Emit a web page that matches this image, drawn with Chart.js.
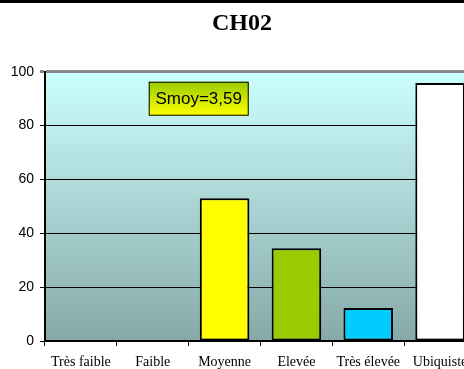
<!DOCTYPE html>
<html>
<head>
    <title>CH02</title>
    <script src="https://cdn.jsdelivr.net/npm/chart.js"></script>
    <style>
        html, body {
            margin: 0;
            padding: 0;
            overflow: hidden;
            background: #fff;
        }
        #topline {
            position: absolute;
            left: 0; top: 0;
            width: 464px;
            height: 3px;
            background: #000;
            z-index: 2;
        }
        #wrap {
            position: absolute;
            left: 0; top: 0;
            width: 476px;
            height: 369px;
        }
    </style>
</head>
<body>
    <div id="topline"></div>
    <div id="wrap"><canvas id="ch02Chart"></canvas></div>

    <script>
        // Data
        const categories = ['Très faible', 'Faible', 'Moyenne', 'Elevée', 'Très élevée', 'Ubiquiste'];
        const values = [0, 0, 53, 34.5, 12.3, 95.8];
        const barColors = ['#ffff00', '#ffff00', '#ffff00', '#99cc00', '#00ccff', '#ffffff'];
        const yTicks = [0, 20, 40, 60, 80, 100];
        const titleText = 'CH02';
        const noteText = 'Smoy=3,59';

        // Gradient plot background
        const plotBackground = {
            id: 'plotBackground',
            beforeDraw(chart) {
                const { ctx, chartArea: a } = chart;
                const g = ctx.createLinearGradient(0, a.top, 0, a.bottom);
                g.addColorStop(0, '#ccffff');
                g.addColorStop(1, '#86a9a7');
                ctx.save();
                ctx.fillStyle = g;
                ctx.fillRect(a.left, a.top, a.right - a.left, a.bottom - a.top);
                ctx.restore();
            }
        };

        // "Smoy" label box
        const noteBox = {
            id: 'noteBox',
            afterDatasetsDraw(chart) {
                const { ctx } = chart;
                const xs = chart.scales.x, ys = chart.scales.y;
                const cx = xs.getPixelForValue(1.64);
                const cy = ys.getPixelForValue(90);
                const w = 100, h = 34;
                const x0 = cx - w / 2, y0 = cy - h / 2;
                ctx.save();
                const g = ctx.createLinearGradient(0, y0, 0, y0 + h);
                g.addColorStop(0, '#99cc00');
                g.addColorStop(1, '#ffff00');
                ctx.fillStyle = g;
                ctx.fillRect(x0, y0, w, h);
                ctx.strokeStyle = '#000';
                ctx.lineWidth = 1;
                ctx.strokeRect(x0 + 0.5, y0 + 0.5, w - 1, h - 1);
                ctx.fillStyle = '#000';
                ctx.font = '17px "Liberation Sans", Arial, sans-serif';
                ctx.textAlign = 'center';
                ctx.textBaseline = 'middle';
                ctx.fillText(noteText, cx, cy + 1);
                ctx.restore();
            }
        };

        new Chart(document.getElementById('ch02Chart').getContext('2d'), {
            type: 'bar',
            data: {
                labels: categories,
                datasets: [{
                    data: values,
                    backgroundColor: barColors,
                    borderColor: '#000',
                    borderWidth: 2,
                    borderSkipped: false,
                    barPercentage: 0.69,
                    categoryPercentage: 1
                }]
            },
            options: {
                responsive: true,
                maintainAspectRatio: false,
                animation: false,
                layout: { padding: { top: 0, right: 0, left: 8, bottom: 0 } },
                plugins: {
                    legend: { display: false },
                    tooltip: { enabled: false },
                    title: {
                        display: true,
                        text: titleText,
                        color: '#000',
                        font: { family: '"Liberation Serif", "Times New Roman", serif', size: 24, weight: 'bold' },
                        padding: { top: 9, bottom: 34 }
                    }
                },
                scales: {
                    x: {
                        offset: true,
                        afterFit(scale) { scale.height = 28; },
                        grid: {
                            offset: true,
                            drawOnChartArea: false,
                            drawTicks: true,
                            tickLength: 5,
                            color: '#000'
                        },
                        border: { color: '#000', width: 2 },
                        ticks: {
                            color: '#000',
                            padding: 8,
                            maxRotation: 0,
                            autoSkip: false,
                            font: { family: '"Liberation Serif", "Times New Roman", serif', size: 14 }
                        }
                    },
                    y: {
                        min: 0,
                        max: 100,
                        afterBuildTicks(scale) {
                            scale.ticks = yTicks.map(v => ({ value: v }));
                        },
                        afterFit(scale) { scale.width = 37; },
                        grid: {
                            color: ctx => ctx.tick && ctx.tick.value === 100 ? '#888888' : '#000',
                            lineWidth: ctx => ctx.tick && ctx.tick.value === 100 ? 3 : 1,
                            tickLength: 5,
                            drawTicks: true
                        },
                        border: { color: '#000', width: 2 },
                        ticks: {
                            color: '#000',
                            padding: 6,
                            font: { family: '"Liberation Sans", Arial, sans-serif', size: 14 }
                        }
                    }
                }
            },
            plugins: [plotBackground, noteBox]
        });
    </script>
</body>
</html>
